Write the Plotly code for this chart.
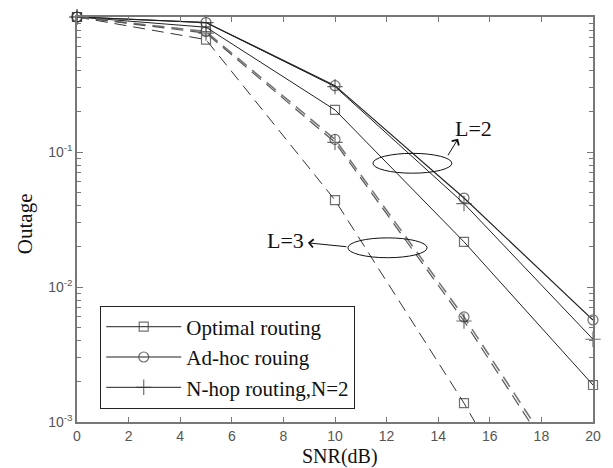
import plotly.graph_objects as go

snr = [0, 5, 10, 15, 20]
l2_optimal = [1.0, 0.84, 0.205, 0.0216, 0.00188]
l2_adhoc = [1.0, 0.91, 0.31, 0.0456, 0.0057]
l2_nhop = [1.0, 0.91, 0.305, 0.0415, 0.0041]
l3_optimal = [1.0, 0.68, 0.044, 0.00138, 0.00003]
l3_adhoc = [1.0, 0.78, 0.124, 0.0060, 0.00021]
l3_nhop = [1.0, 0.76, 0.118, 0.0056, 0.00019]

legend_names = ["Optimal routing", "Ad-hoc rouing", "N-hop routing,N=2"]
x_ticks = list(range(0, 21, 2))
y_tickvals = [1, 0.1, 0.01, 0.001]
y_ticktext = ["10<sup>0</sup>", "10<sup>-1</sup>", "10<sup>-2</sup>", "10<sup>-3</sup>"]
y_minor = [m * 10 ** e for e in (-3, -2, -1) for m in range(2, 10)]

YMIN = 1e-3

def msizes(vals, s):
    return [s if v >= YMIN * 0.999 else 0 for v in vals]

fig = go.Figure()

series = [
    (l2_optimal, "square-open", 9, legend_names[0], True, "solid", "#222", 1),
    (l2_adhoc, "circle-open", 10, legend_names[1], True, "solid", "#222", 1.2),
    (l2_nhop, "cross-thin-open", 11, legend_names[2], True, "solid", "#222", 1),
    (l3_optimal, "square-open", 9, legend_names[0], False, "12px,7px", "#333", 1),
    (l3_adhoc, "circle-open", 10, legend_names[1], False, "12px,7px", "#777", 1.6),
    (l3_nhop, "cross-thin-open", 11, legend_names[2], False, "12px,7px", "#555", 1.2),
]
for vals, sym, sz, name, show, dash, col, w in series:
    fig.add_trace(go.Scatter(
        x=snr, y=vals, mode="lines+markers", name=name, showlegend=show,
        line=dict(color=col, width=w, dash=dash),
        marker=dict(symbol=sym, size=msizes(vals, sz), color="#333",
                    line=dict(width=1.2, color="#333")),
        cliponaxis=False,
    ))

serif = "Liberation Serif"

fig.update_layout(
    width=613, height=468,
    margin=dict(l=69, r=28, t=7, b=54),
    paper_bgcolor="white", plot_bgcolor="white",
    showlegend=True,
    legend=dict(
        x=0.045, y=0.2875, xanchor="left", yanchor="top",
        bgcolor="white", bordercolor="#222", borderwidth=1,
        font=dict(family=serif, size=21, color="#111"),
        itemwidth=75, tracegroupgap=0,
    ),
    xaxis=dict(
        range=[0, 20], tickvals=x_ticks, ticks="inside", ticklen=5,
        showgrid=False, zeroline=False, showline=True, linecolor="#777",
        linewidth=1.5, mirror="ticks", tickcolor="#777",
        tickfont=dict(family="Liberation Sans", size=14, color="#555"),
    ),
    yaxis=dict(
        type="log", range=[-3, 0], tickvals=y_tickvals, ticktext=y_ticktext,
        ticks="inside", ticklen=6, showgrid=False, zeroline=False,
        showline=True, linecolor="#777", linewidth=1.5, mirror="ticks",
        tickcolor="#777",
        tickfont=dict(family="Liberation Sans", size=14, color="#555"),
        minor=dict(ticks="inside", ticklen=4, tickcolor="#777", showgrid=False,
                   tickvals=y_minor),
    ),
)

fig.add_annotation(x=0.51, y=-0.084, xref="paper", yref="paper", text="SNR(dB)",
                   showarrow=False, xanchor="center", yanchor="middle",
                   font=dict(family=serif, size=20, color="#111"))
fig.add_annotation(x=-0.1008, y=0.491, xref="paper", yref="paper", text="Outage",
                   showarrow=False, textangle=-90, xanchor="center", yanchor="middle",
                   font=dict(family=serif, size=21, color="#111"))

# ellipses
fig.add_shape(type="circle", xref="x", yref="y", x0=11.47, x1=14.53,
              y0=10 ** -1.157, y1=10 ** -1.010, line=dict(color="#111", width=1))
fig.add_shape(type="circle", xref="x", yref="y", x0=10.50, x1=13.57,
              y0=10 ** -1.783, y1=10 ** -1.636, line=dict(color="#111", width=1))

fig.add_annotation(x=14.77, y=-0.902, xref="x", yref="y", text="", showarrow=True,
                   ax=-11, ay=18, arrowhead=4, arrowsize=1.6, arrowwidth=1, arrowcolor="#111")
fig.add_annotation(x=15.35, y=-0.825, xref="x", yref="y", text="L=2", showarrow=False,
                   font=dict(family=serif, size=22, color="#111"))
fig.add_annotation(x=8.95, y=-1.673, xref="x", yref="y", text="", showarrow=True,
                   ax=40, ay=4, arrowhead=4, arrowsize=1.6, arrowwidth=1, arrowcolor="#111")
fig.add_annotation(x=8.10, y=-1.658, xref="x", yref="y", text="L=3", showarrow=False,
                   font=dict(family=serif, size=22, color="#111"))

fig.write_html("out.html")
